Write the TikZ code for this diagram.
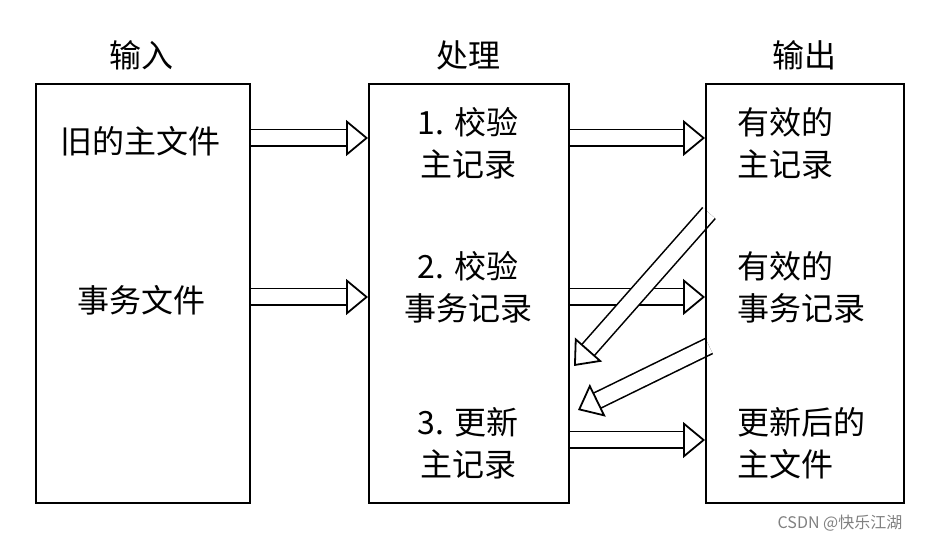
\documentclass[tikz,border=0pt]{standalone}
\usepackage{fontspec}
\setmainfont{Noto Sans CJK SC}
\usetikzlibrary{arrows.meta, positioning, backgrounds}

\begin{document}
\begin{tikzpicture} [
			x=0.5pt, y=-0.5pt,
			every node/.style={font=\fontsize{16}{21}\selectfont,align=center},
			box/.style={draw,thick,rectangle,inner sep=0,anchor=north west},
			fat/.style={draw,thick,double=white,double distance=7.5pt,-{Triangle[fill=white,length=11pt,width=18pt,line width=0.9pt]}},
			legend/.style={draw=none,fill=none}
		]
			\useasboundingbox (0,0) rectangle (938,560);
			\node at (35,83) [box,minimum width=107pt,minimum height=209.5pt] (nodeIn) {};
			\node at (368,83) [box,minimum width=100pt,minimum height=209.5pt] (nodeProc) {};
			\node at (705,83) [box,minimum width=99pt,minimum height=209.5pt] (nodeOut) {};
			\node at (141,55) [legend] (legIn) {输入};
			\node at (468,55) [legend] (legProc) {处理};
			\node at (804,55) [legend] (legOut) {输出};
			% input side
			\node at (141,141) [legend] (oldMaster) {旧的主文件};
			\node at (141,300) [legend] (trans) {事务文件};
			% processing
			\node at (468,143) [legend] (stepA) {1. 校验\\主记录};
			\node at (468,287) [legend] (stepB) {2. 校验\\事务记录};
			\node at (468,443) [legend] (stepC) {3. 更新\\主记录};
			% output
			\node at (730,143) [legend,anchor=west,align=left] (validMaster) {有效的\\主记录};
			\node at (730,287) [legend,anchor=west,align=left] (validTrans) {有效的\\事务记录};
			\node at (730,443) [legend,anchor=west,align=left] (newMaster) {更新后的\\主文件};
			\coordinate (tipA) at (574,366);
			\coordinate (tipB) at (578,410);
			\coordinate (startA) at (709,213);
			\coordinate (startB) at (709,346);
			\begin{scope}[on background layer]
			\draw[fat] (nodeIn.east|-0,138) -- (nodeProc.west|-0,138);
			\draw[fat] (nodeIn.east|-0,297) -- (nodeProc.west|-0,297);
			\draw[fat] (nodeProc.east|-0,138) -- (nodeOut.west|-0,138);
			\draw[fat] (nodeProc.east|-0,297) -- (nodeOut.west|-0,297);
			\draw[fat] (nodeProc.east|-0,440) -- (nodeOut.west|-0,440);
			\draw[fat] (startA) -- (tipA);
			\draw[fat] (startB) -- (tipB);
			\end{scope}
			\node at (840,523) [legend,font=\fontsize{8}{10}\selectfont,text=gray] (mark) {CSDN @快乐江湖};
		\end{tikzpicture}
\end{document}
